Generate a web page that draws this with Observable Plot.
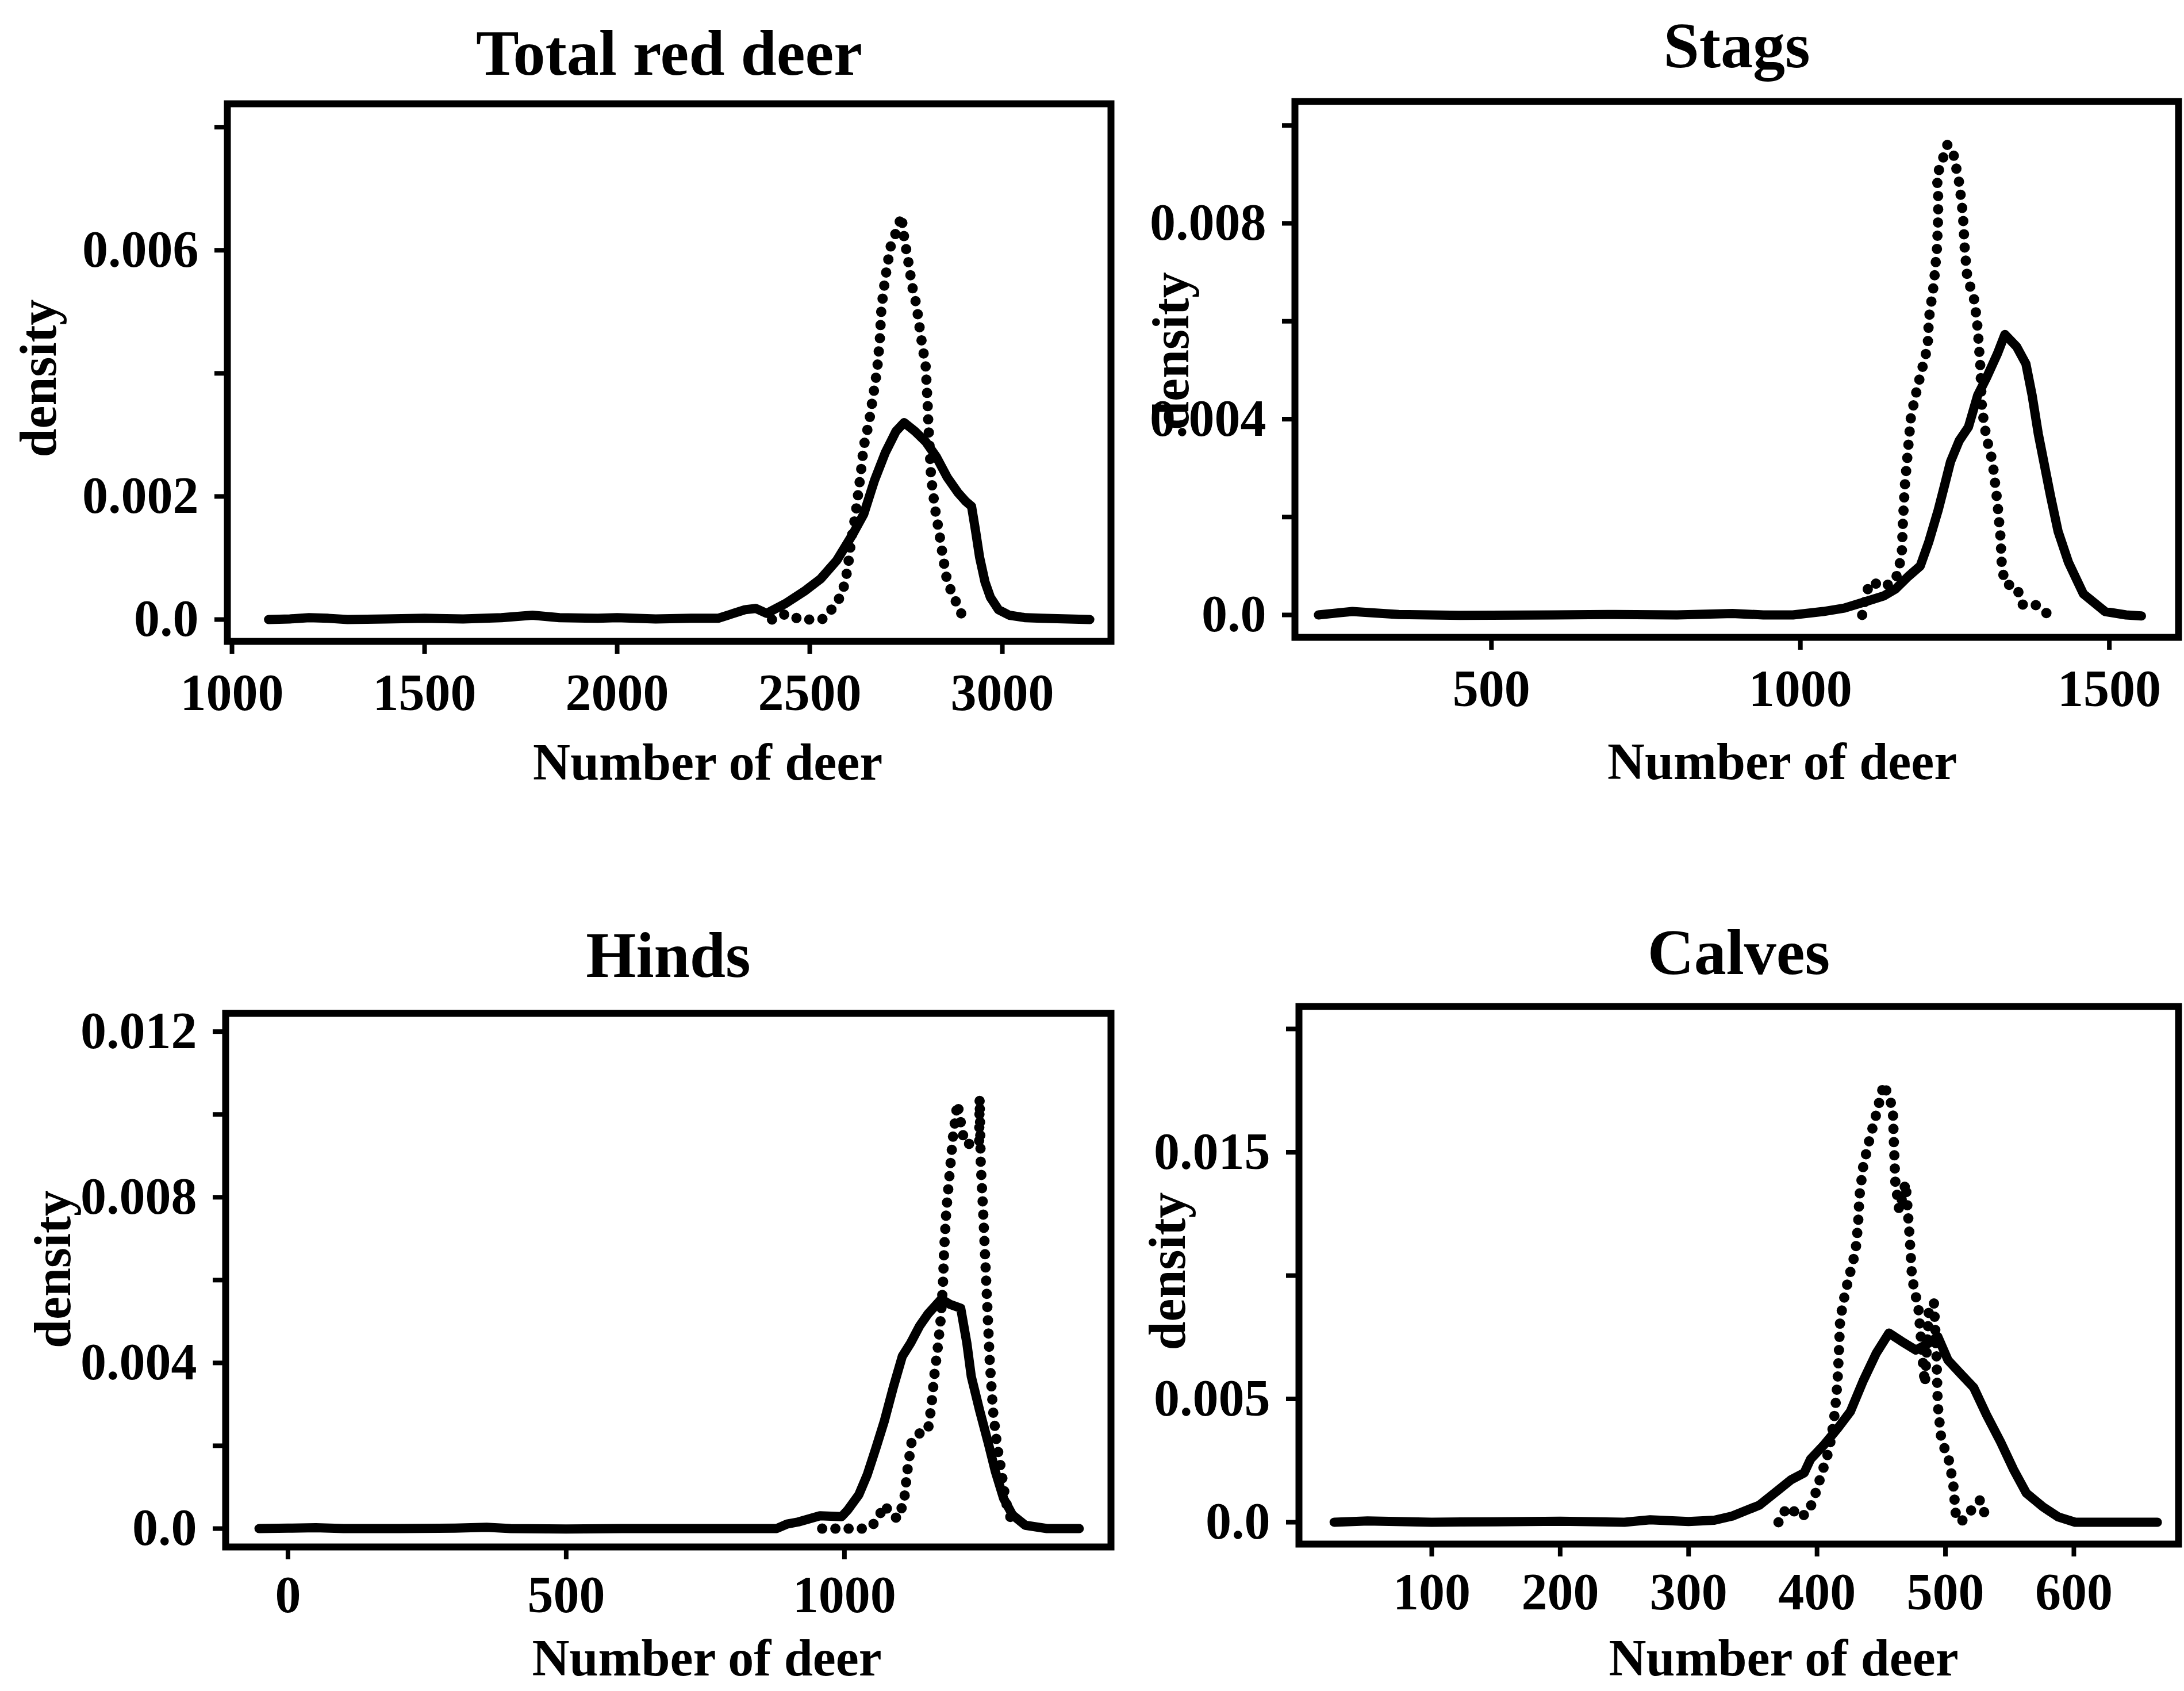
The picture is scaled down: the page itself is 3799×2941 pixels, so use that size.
<!DOCTYPE html>
<html>
<head>
<meta charset="utf-8">
<script src="https://cdn.jsdelivr.net/npm/d3@7"></script>
<script src="https://cdn.jsdelivr.net/npm/@observablehq/plot@0.6"></script>
<style>
html, body { margin: 0; padding: 0; background: #fff; }
#page { position: relative; width: 3799px; height: 2941px; background: #fff; overflow: hidden; }
.panel { position: absolute; }
.panel svg { max-width: none !important; }
</style>
</head>
<body>
<div id="page"></div>
<script>
// ---------- DATA (number of deer, density) ----------
const panelTitles = ["Total red deer", "Stags", "Hinds", "Calves"];
const xAxisLabel = "Number of deer";
const yAxisLabel = "density";

// Total red deer
const totalSolid = [[1095,0],[1150,0.00001],[1200,0.00003],[1250,0.00002],[1300,0],[1400,0.00001],[1500,0.00002],[1600,0.00001],[1700,0.00003],[1780,0.00007],[1850,0.00003],[1950,0.00002],[2000,0.00003],[2100,0.00001],[2192,0.00002],[2262,0.00002],[2332,0.00016],[2360,0.00018],[2388,0.0001],[2437,0.00026],[2486,0.00046],[2528,0.00066],[2570,0.00096],[2612,0.00139],[2640,0.00171],[2668,0.00226],[2696,0.00271],[2724,0.00306],[2745,0.0032],[2773,0.00306],[2801,0.00289],[2829,0.00264],[2857,0.00231],[2885,0.00206],[2905,0.00192],[2920,0.00184],[2930,0.00146],[2941,0.00101],[2955,0.00061],[2969,0.00036],[2990,0.00016],[3018,0.00007],[3060,0.00003],[3101,0.00002],[3171,0.00001],[3227,0]];
const totalDotted = [[2402,0],[2430,0.00008],[2451,0.00008],[2472,0],[2507,0],[2535,0.00001],[2556,0.00016],[2584,0.00041],[2598,0.00081],[2608,0.00131],[2619,0.00171],[2626,0.00206],[2633,0.00241],[2640,0.00281],[2654,0.00321],[2664,0.00361],[2675,0.00406],[2682,0.00456],[2686,0.00506],[2693,0.00541],[2700,0.00571],[2710,0.00606],[2731,0.00641],[2738,0.00656],[2745,0.00621],[2756,0.00581],[2766,0.00541],[2777,0.00511],[2787,0.00466],[2801,0.00411],[2806,0.00351],[2808,0.00316],[2811,0.00281],[2815,0.00231],[2825,0.00181],[2836,0.00141],[2846,0.00101],[2857,0.00061],[2878,0.00031],[2892,0.00011],[2906,0]];

// Stags
const stagsSolid = [[220,0],[250,0.00004],[275,0.00007],[310,0.00004],[350,0.00001],[450,-0.00001],[600,0],[700,0.00001],[800,0],[890,0.00003],[940,0],[988,0],[1037,0.00007],[1071,0.00014],[1105,0.00027],[1135,0.00039],[1154,0.00053],[1174,0.00078],[1194,0.001],[1208,0.0015],[1223,0.00214],[1233,0.00263],[1243,0.00313],[1257,0.00356],[1272,0.00384],[1287,0.00449],[1301,0.00484],[1319,0.00534],[1331,0.00573],[1350,0.00548],[1365,0.00513],[1375,0.00449],[1385,0.0037],[1395,0.00306],[1405,0.00242],[1417,0.00171],[1434,0.00107],[1458,0.00043],[1493,0.00007],[1527,0],[1552,-0.00002]];
const stagsDotted = [[1100,0],[1108,0.0005],[1115,0.00068],[1135,0.00057],[1154,0.00071],[1164,0.00121],[1166,0.00192],[1169,0.00263],[1174,0.00335],[1179,0.00406],[1189,0.00463],[1199,0.00513],[1206,0.00548],[1208,0.00605],[1216,0.00676],[1221,0.00748],[1223,0.00812],[1223,0.00854],[1221,0.00897],[1230,0.0093],[1238,0.00961],[1248,0.0094],[1257,0.00883],[1263,0.00819],[1266,0.00748],[1270,0.00691],[1282,0.00641],[1287,0.00584],[1291,0.00513],[1294,0.0042],[1301,0.00363],[1311,0.00313],[1319,0.00228],[1324,0.00157],[1326,0.001],[1331,0.00064],[1350,0.00057],[1360,0.00021],[1380,0.00021],[1395,0.00007],[1402,0]];

// Hinds
const hindsSolid = [[-52,0],[0,0.00001],[50,0.00002],[100,0],[200,0],[300,0.00001],[357,0.00003],[400,0],[500,-0.00001],[600,0],[700,0],[800,0],[878,0],[897,0.00011],[917,0.00016],[956,0.00031],[995,0.00029],[1006,0.00045],[1026,0.00082],[1041,0.0013],[1057,0.00196],[1072,0.00261],[1088,0.00342],[1104,0.00416],[1119,0.00448],[1135,0.00489],[1150,0.00518],[1174,0.00554],[1189,0.00542],[1209,0.00532],[1220,0.00448],[1228,0.00367],[1243,0.00285],[1259,0.00204],[1271,0.00139],[1286,0.00073],[1302,0.00033],[1325,0.00008],[1364,0],[1422,0]];
const hindsDotted = [[960,0],[995,0],[1041,0],[1057,0.00016],[1072,0.00057],[1084,0.00033],[1096,0.00024],[1107,0.00065],[1113,0.00139],[1121,0.00212],[1131,0.00228],[1150,0.00236],[1156,0.00293],[1162,0.00375],[1168,0.0044],[1173,0.00505],[1177,0.00587],[1179,0.00668],[1183,0.00766],[1189,0.00856],[1195,0.00945],[1203,0.01027],[1216,0.00929],[1242,0.00929],[1243,0.01039],[1245,0.0088],[1249,0.00774],[1253,0.00652],[1257,0.0053],[1261,0.00408],[1267,0.00285],[1274,0.00204],[1282,0.00139],[1290,0.00065],[1300,0.0002]];

// Calves
const calvesSolid = [[24,0],[50,0.00005],[100,0],[150,0.00002],[200,0.00004],[250,0],[270,0.0001],[300,0.00003],[320,0.00008],[334,0.00025],[355,0.00069],[370,0.00131],[380,0.00173],[390,0.002],[395,0.00256],[405,0.00311],[416,0.0038],[426,0.00449],[436,0.00574],[446,0.00684],[456,0.00767],[466,0.00733],[477,0.00698],[487,0.00726],[494,0.00753],[502,0.00657],[512,0.00601],[522,0.00546],[532,0.00435],[543,0.00325],[553,0.00214],[563,0.00118],[576,0.00062],[588,0.00021],[601,0],[630,0],[665,0]];
const calvesDotted = [[370,0],[372,0.00035],[380,0.00062],[385,0.00021],[393,0.00035],[398,0.00104],[403,0.00187],[408,0.0027],[411,0.00339],[414,0.00449],[416,0.00574],[417,0.00684],[418,0.00823],[422,0.00933],[426,0.01016],[430,0.01099],[432,0.0121],[433,0.0132],[436,0.01445],[441,0.01555],[446,0.01652],[452,0.01777],[459,0.0168],[460,0.01514],[461,0.01376],[464,0.01265],[469,0.01376],[472,0.01168],[474,0.0099],[479,0.00864],[483,0.00615],[484,0.0056],[487,0.0085],[491,0.00892],[493,0.00684],[494,0.00477],[497,0.00325],[502,0.0027],[506,0.00159],[508,0.00035],[512,0],[520,0.00048],[527,0.0009],[531,0.00028]];

// Tick values and labels
const totalXTicks = [1000, 1500, 2000, 2500, 3000];
const totalYTicks = [0, 0.002, 0.004, 0.006, 0.008];
const totalYLabels = ["0.0", "0.002", "", "0.006", ""];
const stagsXTicks = [500, 1000, 1500];
const stagsYTicks = [0, 0.002, 0.004, 0.006, 0.008, 0.010];
const stagsYLabels = ["0.0", "", "0.004", "", "0.008", ""];
const hindsXTicks = [0, 500, 1000];
const hindsYTicks = [0, 0.002, 0.004, 0.006, 0.008, 0.010, 0.012];
const hindsYLabels = ["0.0", "", "0.004", "", "0.008", "", "0.012"];
const calvesXTicks = [100, 200, 300, 400, 500, 600];
const calvesYTicks = [0, 0.005, 0.010, 0.015, 0.020];
const calvesYLabels = ["0.0", "0.005", "", "0.015", ""];

// ---------- DRAWING ----------
const FONT = "'Liberation Serif', 'Times New Roman', Times, serif";
const page = document.getElementById("page");

function drawPanel(cfg) {
  const yLabelMap = new Map(cfg.yTicks.map((t, i) => [t, cfg.yLabels[i]]));
  const chart = Plot.plot({
    width: cfg.width,
    height: cfg.height,
    marginLeft: cfg.m[0], marginRight: cfg.m[1], marginTop: cfg.m[2], marginBottom: cfg.m[3],
    style: {fontFamily: FONT, fontWeight: "bold", fontSize: "88px", color: "#000", background: "#fff", overflow: "visible"},
    x: {domain: cfg.xDomain},
    y: {domain: cfg.yDomain},
    marks: [
      Plot.axisX({ticks: cfg.xTicks, tickSize: 22, tickPadding: cfg.xPad, strokeWidth: 8, fontSize: 90, fontWeight: "bold", label: null, tickFormat: d => String(d)}),
      Plot.axisY({ticks: cfg.yTicks, tickSize: 22, tickPadding: 28, strokeWidth: 8, fontSize: 90, fontWeight: "bold", label: null, tickFormat: d => yLabelMap.get(d) ?? ""}),
      Plot.line(cfg.solid, {x: d => d[0], y: d => d[1], stroke: "#000", strokeWidth: 16, strokeLinejoin: "round", strokeLinecap: "round"}),
      Plot.line(cfg.dotted, {x: d => d[0], y: d => d[1], stroke: "#000", strokeWidth: 18, strokeLinecap: "round", strokeLinejoin: "round", strokeDasharray: "0 23"}),
      Plot.frame({stroke: "#000", strokeWidth: 12}),
      Plot.text([cfg.title], {frameAnchor: "top", lineAnchor: "middle", textAnchor: "middle", dy: cfg.titleDy, fontSize: 112, fontWeight: "bold", fill: "#000"}),
      Plot.text([xAxisLabel], {frameAnchor: "bottom", lineAnchor: "middle", textAnchor: "middle", dx: cfg.xlab[0], dy: cfg.xlab[1], fontSize: 90, fontWeight: "bold", fill: "#000"}),
      Plot.text([yAxisLabel], {frameAnchor: "left", lineAnchor: "middle", textAnchor: "middle", rotate: -90, dx: cfg.ylab[0], dy: cfg.ylab[1], fontSize: 90, fontWeight: "bold", fill: "#000"})
    ]
  });
  const div = document.createElement("div");
  div.className = "panel";
  div.style.left = cfg.left + "px";
  div.style.top = cfg.top + "px";
  div.style.width = cfg.width + "px";
  div.style.height = cfg.height + "px";
  div.appendChild(chart);
  page.appendChild(div);
}

drawPanel({title: panelTitles[0], solid: totalSolid, dotted: totalDotted,
  xDomain: [988, 3282], yDomain: [-0.000355, 0.00838], xTicks: totalXTicks, yTicks: totalYTicks, yLabels: totalYLabels,
  left: 0, top: 0, width: 1960, height: 1470, m: [395, 28, 180, 355], xPad: 34,
  titleDy: -86, xlab: [67, 212], ylab: [-327, 10]});

drawPanel({title: panelTitles[1], solid: stagsSolid, dotted: stagsDotted,
  xDomain: [182, 1612], yDomain: [-0.000458, 0.01049], xTicks: stagsXTicks, yTicks: stagsYTicks, yLabels: stagsYLabels,
  left: 1960, top: 0, width: 1839, height: 1470, m: [292, 10, 176, 362], xPad: 34,
  titleDy: -95, xlab: [79, 218], ylab: [-214, -32]});

drawPanel({title: panelTitles[2], solid: hindsSolid, dotted: hindsDotted,
  xDomain: [-112, 1479], yDomain: [-0.000444, 0.01244], xTicks: hindsXTicks, yTicks: hindsYTicks, yLabels: hindsYLabels,
  left: 0, top: 1470, width: 1960, height: 1471, m: [392, 28, 292, 251], xPad: 28,
  titleDy: -99, xlab: [67, 195], ylab: [-299, -19]});

drawPanel({title: panelTitles[3], solid: calvesSolid, dotted: calvesDotted,
  xDomain: [-3.4, 681.5], yDomain: [-0.000886, 0.02091], xTicks: calvesXTicks, yTicks: calvesYTicks, yLabels: calvesYLabels,
  left: 1960, top: 1470, width: 1839, height: 1471, m: [299, 10, 280, 256], xPad: 28,
  titleDy: -92, xlab: [78, 200], ylab: [-227, -7]});
</script>
</body>
</html>
